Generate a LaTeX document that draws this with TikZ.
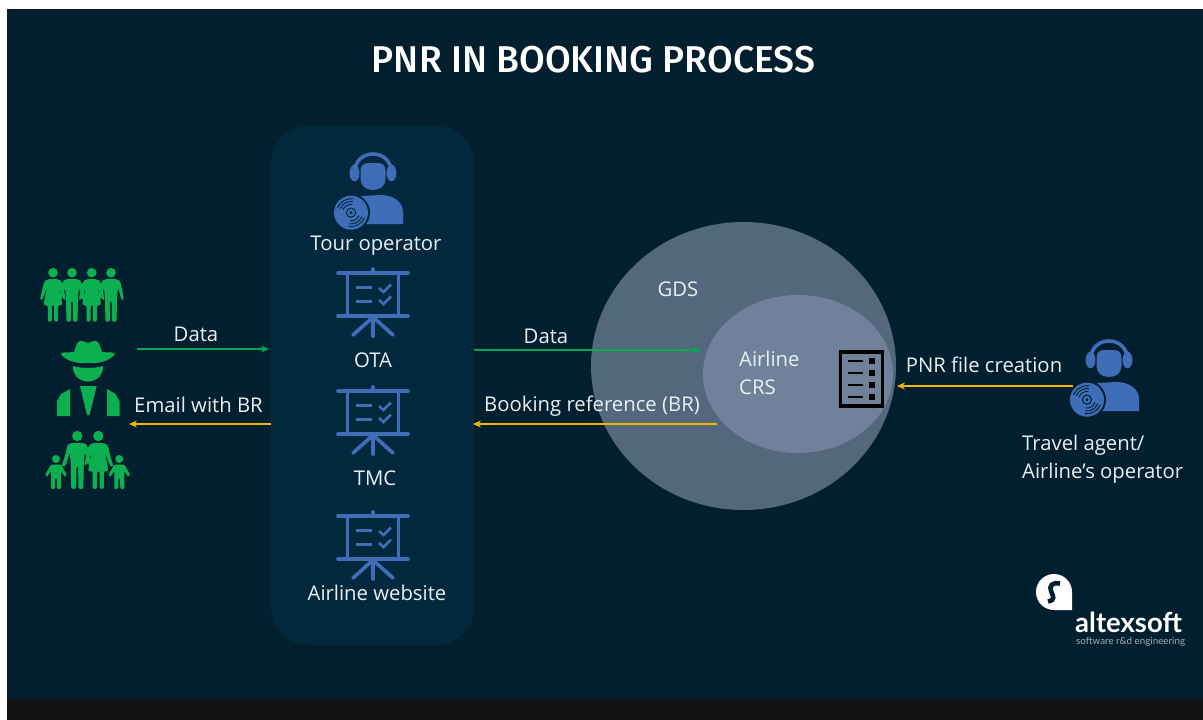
\documentclass[tikz,border=0pt]{standalone}
\usepackage{fontspec}
\setmainfont{Open Sans}
\newfontfamily\titlefont{Fira Sans Medium}
\newfontfamily\logofont{Lato}
\definecolor{bgc}{HTML}{011F2E}
\definecolor{panelc}{HTML}{02283D}
\definecolor{bandc}{HTML}{121212}
\definecolor{gdsc}{HTML}{53687D}
\definecolor{crsc}{HTML}{6F8299}
\definecolor{iconblue}{HTML}{3F6DB8}
\definecolor{icongreen}{HTML}{0DB050}
\definecolor{arrowgreen}{HTML}{00A84F}
\definecolor{arrowyellow}{HTML}{F2B705}
\definecolor{textc}{HTML}{EAF0F2}
\usetikzlibrary{arrows.meta,shapes.geometric}
\tikzset{
  lbl/.style={text=textc,font=\fontsize{20.3}{28}\selectfont,inner sep=0pt},
  lblL/.style={lbl,align=left,anchor=west},
  greenarrow/.style={draw=arrowgreen,line width=1.3,-{Stealth[length=8,width=7]}},
  yellowarrow/.style={draw=arrowyellow,line width=1.6,-{Stealth[length=8,width=7]}},
  pics/agent/.style={code={
    \draw[iconblue,line width=3.6] (-18.5,-2) .. controls (-18.5,-14) and (-10,-21) .. (0,-21) .. controls (10,-21) and (18.5,-14) .. (18.5,-2);
    \fill[iconblue] (-18.5,-2) ellipse [x radius=5,y radius=8.3];
    \fill[iconblue] (18.5,-2) ellipse [x radius=5,y radius=8.3];
    \fill[iconblue] (-12.5,-4) .. controls (-12.5,-10) and (-9,-12) .. (-5,-12) -- (5,-12) .. controls (9,-12) and (12.5,-10) .. (12.5,-4) -- (12.5,4) .. controls (12.5,11) and (7,15) .. (0,15) .. controls (-7,15) and (-12.5,11) .. (-12.5,4) -- cycle;
    \fill[iconblue] (-12,21) -- (8,20) .. controls (20,20) and (30,27) .. (30,37) -- (30,49) -- (-12,49) -- cycle;
    \fill[#1] (-22,37.7) circle [radius=19];
    \fill[iconblue] (-22,37.7) circle [radius=17];
    \draw[#1,line width=1] (-22,37.7) circle [radius=4.6];
    \fill[#1] (-22,37.7) circle [radius=1.6];
    \foreach \r in {8.5,11.5,14.3}{
      \draw[#1,line width=.9] (-22-\r*0.94,37.7-\r*0.34) .. controls (-22-\r*0.7,37.7-\r*0.85) and (-22-\r*0.3,37.7-\r) .. (-22+\r*0.17,37.7-\r*0.98);
      \draw[#1,line width=.9] (-22+\r*0.94,37.7+\r*0.34) .. controls (-22+\r*0.7,37.7+\r*0.85) and (-22+\r*0.3,37.7+\r) .. (-22-\r*0.17,37.7+\r*0.98);
    }
  }},
  pics/board/.style={code={
    \begin{scope}[draw=iconblue,line width=3.7,line cap=round,fill=none]
      \draw (-35,0) -- (35,0);
      \draw (-35,43) -- (35,43);
      \draw (0,-4) -- (0,0);
      \draw[line cap=butt] (-25.5,0) -- (-25.5,43);
      \draw[line cap=butt] (25.5,0) -- (25.5,43);
      \draw (0,43) -- (0,63);
      \draw (-1,45) -- (-20,62);
      \draw (1,45) -- (20,62);
      \draw[line width=3,line cap=butt] (-17,14) -- (-1,14);
      \draw[line width=3,line cap=butt] (-17,28) -- (-1,28);
      \draw[line width=2.6,line cap=butt] (6,15) -- (10.5,19) -- (18,11.5);
      \draw[line width=2.6,line cap=butt] (6,27) -- (10.5,31) -- (18,23.5);
    \end{scope}
  }},
  pics/man/.style={code={
    \fill[icongreen] (0,0) circle [radius=4.8];
    \fill[icongreen,rounded corners=2] (-7,6.5) -- (7,6.5) -- (9.5,9) -- (13,27) -- (10.6,27.6) -- (7,15) -- (6,26) -- (5.6,49) -- (1,49) -- (.8,28) -- (-.8,28) -- (-1,49) -- (-5.6,49) -- (-6,26) -- (-7,15) -- (-10.6,27.6) -- (-13,27) -- (-9.5,9) -- cycle;
  }},
  pics/woman/.style={code={
    \fill[icongreen] (0,0) circle [radius=4.8];
    \fill[icongreen,rounded corners=2] (-6,6.5) -- (6,6.5) -- (9,9) -- (13,27) -- (10.6,27.6) -- (6,14) -- (9.5,32.5) -- (5.2,32.5) -- (5.2,49) -- (1.2,49) -- (1.2,32.5) -- (-1.2,32.5) -- (-1.2,49) -- (-5.2,49) -- (-5.2,32.5) -- (-9.5,32.5) -- (-6,14) -- (-10.6,27.6) -- (-13,27) -- (-9,9) -- cycle;
  }},
  pics/kid/.style={code={
    \fill[icongreen] (0,0) circle [radius=4];
    \fill[icongreen,rounded corners=1.2] (-5,5.5) -- (5,5.5) -- (#1*11,16) -- (#1*9,18) -- (5,12) -- (5,30) -- (1,30) -- (.8,19) -- (-.8,19) -- (-1,30) -- (-5,30) -- (-5,12) -- (-#1*9,18) -- (-#1*11,16) -- cycle;
  }},
}
\begin{document}
\begin{tikzpicture}[x=1pt,y=-1pt]
\useasboundingbox (0,0) rectangle (1203,720);
\fill[white] (0,0) rectangle (1203,720);
\fill[bgc] (7,9) rectangle (1203,699);
\fill[bandc] (7,699) rectangle (1203,720);
\node[text=white,font=\titlefont\fontsize{37.3}{40}\selectfont,inner sep=0pt] (title) at (593.5,60) {PNR IN BOOKING PROCESS};
% panel
\node[fill=panelc,rounded corners=38,minimum width=203,minimum height=519,inner sep=0pt] (panel) at (372.5,385.5) {};
% GDS
\node[fill=gdsc,ellipse,minimum width=305,minimum height=288,inner sep=0pt] (gds) at (743.5,366) {};
\node[fill=crsc,ellipse,minimum width=190,minimum height=158,inner sep=0pt] (crs) at (798,374) {};
% panel content
\pic at (373,175) {agent=panelc};
\node[lbl] (tour) at (376,246) {Tour operator};
\pic at (373,273) {board};
\node[lbl] (ota) at (373,360.5) {OTA};
\pic at (373,391) {board};
\node[lbl] (tmc) at (375,478) {TMC};
\pic at (373,516) {board};
\node[lbl] (web) at (377,593) {Airline website};
\node[lbl] (gdsl) at (678,289.5) {GDS};
\node[lblL] (crsl) at (739,373) {Airline\\CRS};
% doc
\node[draw=black,line width=3.6,fill=none,minimum width=42,minimum height=54,inner sep=0pt] (doc) at (861.3,379) {};
\foreach \yy in {361,373,385,397}{
  \draw[black,line width=2.6] (848,\yy) -- (863,\yy);
  \fill[black] (869,\yy-3) rectangle (874.5,\yy+3);
}
% right agent
\pic at (1109,362) {agent=bgc};
\node[lblL] (travel) at (1022,459) {Travel agent/\\Airline’s operator};
% left people
\pic at (53,272.7) {woman};
\pic at (72,272.7) {man};
\pic at (91.7,272.7) {woman};
\pic at (111,272.7) {man};
% cowboy
\fill[icongreen] (60.7,354) .. controls (66,361) and (78,364) .. (88,363) .. controls (98,364) and (110,361) .. (115,354) .. controls (112,351) and (108,353) .. (102,352) .. controls (100,346) and (99,341) .. (95,340.7) .. controls (92,340.7) and (90,343) .. (88,343) .. controls (86,343) and (84,340.7) .. (81,340.7) .. controls (77,341) and (76,346) .. (74,352) .. controls (68,353) and (64,351) .. (60.7,354) -- cycle;
\fill[icongreen] (72.7,366) .. controls (80,368.5) and (96,368.5) .. (103.3,366) .. controls (103,376) and (96,381.5) .. (88,381.5) .. controls (80,381.5) and (73,376) .. (72.7,366) -- cycle;
\fill[icongreen] (80,386) -- (96.7,386) -- (89.5,415) -- (87,415) -- cycle;
\fill[icongreen] (57,416) -- (57,401) -- (61,394) -- (70,389) -- (70,416) -- cycle;
\fill[icongreen] (119.5,416) -- (119.5,401) -- (115.5,394) -- (107,389) -- (107,416) -- cycle;
% family
\pic[scale=1.08] at (77.3,436) {man};
\pic[scale=1.08] at (98.3,436) {woman};
\pic at (56,459) {kid=1};
\pic at (119.3,459) {kid=1};
\draw[icongreen,line width=3] (68,452) -- (63,466);
\draw[icongreen,line width=3] (107,452) -- (112,466);
% arrows
\coordinate (a1s) at (137,349);
\coordinate (a1e) at (269,349);
\draw[greenarrow] (a1s) -- (a1e);
\node[lbl] (l1) at (196,334) {Data};
\coordinate (a2s) at (271,424);
\coordinate (a2e) at (129,424);
\draw[yellowarrow] (a2s) -- (a2e);
\node[lbl] (l2) at (198.5,404.5) {Email with BR};
\coordinate (a3s) at (474,350);
\coordinate (a3e) at (701,350);
\draw[greenarrow] (a3s) -- (a3e);
\node[lbl] (l3) at (546,336) {Data};
\coordinate (a4s) at (716.5,424);
\coordinate (a4e) at (473,424);
\draw[yellowarrow] (a4s) -- (a4e);
\node[lbl] (l4) at (592,406) {Booking reference (BR)};
\coordinate (a5s) at (1073,386);
\coordinate (a5e) at (897,386);
\draw[yellowarrow] (a5s) -- (a5e);
\node[lbl] (l5) at (984,365) {PNR file creation};
% logo
\fill[white] (1054,592) circle [radius=18];
\fill[white] (1054,610) -- (1072,610) -- (1072,592) -- cycle;
\draw[bgc,line width=4.6] (1060,583.5) .. controls (1052,582) and (1049,586) .. (1051,591) .. controls (1053,596) and (1056,600) .. (1048,601.5);
\node[text=white,font=\logofont\bfseries\fontsize{27.5}{29}\selectfont,inner sep=0pt,anchor=base west] (logo) at (1075,632) {altexsoft};
\node[text=white!65!bgc,font=\logofont\fontsize{9.8}{12}\selectfont,inner sep=0pt,anchor=base west] (logosub) at (1076,644) {software r\&d engineering};
\end{tikzpicture}
\end{document}
